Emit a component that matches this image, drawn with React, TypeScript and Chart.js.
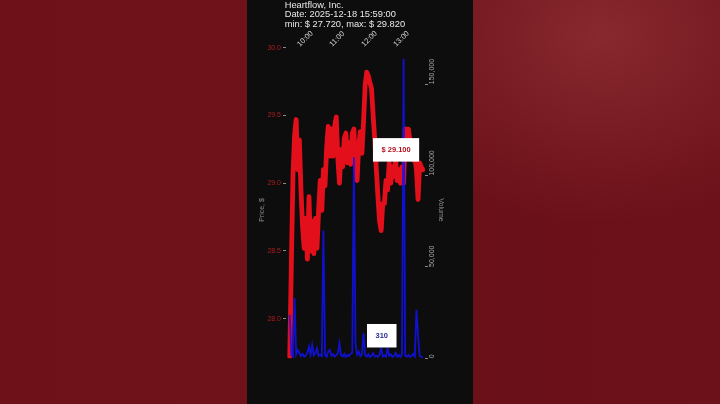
import { useEffect, useRef } from 'react';
import { Chart, registerables } from 'chart.js';

Chart.register(...registerables);

const FONT = '"Liberation Sans", Arial, Helvetica, sans-serif';
Chart.defaults.font.family = FONT;

// snapshot info
const companyName = 'Heartflow, Inc.';
const snapshotDate = '2025-12-18 15:59:00';

// one sample every 3 minutes, starting 09:39
const startTime = '09:39';
const stepMinutes = 3;

// tick labels
const hourLabels = ['10:00', '11:00', '12:00', '13:00'];
const priceTicks = [28.0, 28.5, 29.0, 29.5, 30.0];
const volumeTicks = [0, 50000, 100000, 150000];

// price, $
const prices = [
  27.72, 28.4, 29.05, 29.35, 29.47, 29.1, 29.32, 28.95, 28.68, 28.52,
  28.74, 28.44, 28.9, 28.5, 28.72, 28.48, 28.74, 28.52, 28.8, 29.02,
  28.8, 29.1, 28.98, 29.26, 29.42, 29.2, 29.4, 29.2, 29.42, 29.49,
  29.18, 29.0, 29.25, 29.12, 29.33, 29.37, 29.15, 29.3, 29.14, 29.37,
  29.4, 29.1, 29.02, 29.28, 29.38, 29.22, 29.45, 29.72, 29.82, 29.79,
  29.74, 29.7, 29.5, 29.32, 29.1, 28.9, 28.72, 28.65, 28.85, 28.85,
  29.02, 28.95, 29.15, 29.0, 29.12, 29.05, 29.18, 29.02, 29.1, 29.0,
  29.12, 29.0, 29.4, 29.3, 29.4, 29.3, 29.25, 29.17, 29.2, 29.1,
  28.88, 29.15, 29.12, 29.1,
];

// volume, shares
const volumes = [
  23800, 1800, 900, 33000, 2200, 4500, 2900, 1200, 2400, 900,
  1500, 3200, 6400, 2100, 7300, 1600, 2700, 5500, 1300, 2000,
  1100, 70000, 1900, 800, 3600, 4500, 1400, 2300, 900, 1700,
  2600, 8200, 1500, 1000, 2400, 700, 1800, 1200, 2500, 3100,
  110000, 8400, 2000, 3500, 1100, 2200, 13700, 1800, 900, 2300,
  600, 1500, 2800, 900, 1300, 700, 1900, 5600, 1000, 1600,
  800, 5600, 1400, 2100, 700, 1200, 3000, 900, 1800, 600,
  2500, 164000, 1400, 900, 2000, 700, 1300, 2400, 1000, 26600,
  12800, 1500, 800, 310,
];

const toMinutes = (t: string) => {
  const [h, m] = t.split(':').map(Number);
  return h * 60 + m;
};

const startMinute = toMinutes(startTime);
const times = prices.map((_, i) => startMinute + i * stepMinutes);
const hourValues = hourLabels.map(toMinutes);

function drawTag(ctx: CanvasRenderingContext2D, cx: number, cy: number, text: string, color: string) {
  ctx.save();
  ctx.font = `bold 7.5px ${FONT}`;
  const w = ctx.measureText(text).width + 17;
  const h = 23.5;
  ctx.fillStyle = '#ffffff';
  ctx.fillRect(cx - w / 2, cy - h / 2, w, h);
  ctx.fillStyle = color;
  ctx.textAlign = 'center';
  ctx.textBaseline = 'middle';
  ctx.fillText(text, cx, cy);
  ctx.restore();
}

const overlayPlugin = {
  id: 'overlay',
  afterDatasetsDraw(chart: any) {
    const { ctx, scales } = chart;
    const last = prices.length - 1;
    const px = scales.x.getPixelForValue(times[last]);
    const py = scales.y.getPixelForValue(prices[last]);
    const vy = scales.y1.getPixelForValue(volumes[last]);
    drawTag(ctx, px - 26.8, py - 19.8, `$ ${prices[last].toFixed(3)}`, '#b5121b');
    drawTag(ctx, px - 41.1, vy - 22, String(volumes[last]), '#2b2b9c');
  },
  afterDraw(chart: any) {
    const { ctx, chartArea } = chart;
    ctx.save();
    // header
    ctx.font = `9.3px ${FONT}`;
    ctx.fillStyle = '#e8e8e8';
    ctx.textAlign = 'left';
    ctx.textBaseline = 'alphabetic';
    const lo = Math.min(...prices).toFixed(3);
    const hi = Math.max(...prices).toFixed(3);
    const lines = [companyName, `Date: ${snapshotDate}`, `min: $ ${lo}, max: $ ${hi}`];
    lines.forEach((line, i) => ctx.fillText(line, chartArea.left - 1.3, 7.6 + i * 9.65));

    // axis titles
    const midY = 210;
    ctx.font = `7px ${FONT}`;
    ctx.fillStyle = '#8e8e8e';
    ctx.textAlign = 'center';
    ctx.textBaseline = 'middle';
    ctx.save();
    ctx.translate(14.7, midY);
    ctx.rotate(-Math.PI / 2);
    ctx.fillText('Price, $', 0, 0);
    ctx.restore();
    ctx.save();
    ctx.translate(193.8, midY);
    ctx.rotate(Math.PI / 2);
    ctx.fillText('Volume', 0, 0);
    ctx.restore();
    ctx.restore();
  },
};

export default function App() {
  const canvasRef = useRef<HTMLCanvasElement | null>(null);
  const chartRef = useRef<Chart | null>(null);

  useEffect(() => {
    if (!canvasRef.current) return;
    if (chartRef.current) chartRef.current.destroy();

    chartRef.current = new Chart(canvasRef.current, {
      type: 'line',
      data: {
        datasets: [
          {
            label: 'Volume',
            data: volumes.map((v, i) => ({ x: times[i], y: v })),
            yAxisID: 'y1',
            borderColor: 'rgba(18, 18, 245, 0.85)',
            borderWidth: 1.8,
            pointRadius: 0,
            tension: 0,
            order: 0,
          },
          {
            label: 'Price',
            data: prices.map((p, i) => ({ x: times[i], y: p })),
            yAxisID: 'y',
            borderColor: '#e3101b',
            borderWidth: 4.8,
            borderJoinStyle: 'round',
            borderCapStyle: 'round',
            pointRadius: 0,
            tension: 0,
            order: 1,
          },
        ],
      },
      options: {
        animation: false,
        responsive: true,
        maintainAspectRatio: false,
        layout: { padding: { left: 0, right: 0, top: 0, bottom: 45.7 } },
        plugins: {
          legend: { display: false },
          tooltip: { enabled: false },
          title: { display: false },
        },
        scales: {
          x: {
            type: 'linear',
            position: 'top',
            min: 572,
            max: 832,
            afterBuildTicks: (s: any) => {
              s.ticks = hourValues.map((value) => ({ value }));
            },
            afterFit: (s: any) => {
              s.height = 47.7;
            },
            ticks: {
              autoSkip: false,
              minRotation: 45,
              maxRotation: 45,
              padding: -1,
              labelOffset: 4,
              color: '#d4d4d4',
              font: { size: 7.5 },
              callback: (v: any) => hourLabels[hourValues.indexOf(Number(v))] ?? '',
            },
            grid: { display: false, drawTicks: false },
            border: { display: false },
          },
          y: {
            type: 'linear',
            position: 'left',
            min: 27.708,
            max: 30.0,
            afterBuildTicks: (s: any) => {
              s.ticks = priceTicks.map((value) => ({ value }));
            },
            afterFit: (s: any) => {
              s.width = 39;
            },
            ticks: {
              color: '#b01c22',
              padding: 2,
              font: { size: 7 },
              callback: (v: any) => Number(v).toFixed(1),
            },
            grid: { drawOnChartArea: false, tickLength: 3, color: '#8a8a8a' },
            border: { display: false },
          },
          y1: {
            type: 'linear',
            position: 'right',
            min: 0,
            max: 170000,
            afterBuildTicks: (s: any) => {
              s.ticks = volumeTicks.map((value) => ({ value }));
            },
            afterFit: (s: any) => {
              s.width = 48;
            },
            ticks: {
              color: '#a8a8a8',
              padding: 3.6,
              minRotation: 90,
              maxRotation: 90,
              font: { size: 7 },
              callback: (v: any) => Number(v).toLocaleString('en-US'),
            },
            grid: { drawOnChartArea: false, tickLength: 3, color: '#8a8a8a' },
            border: { display: false },
          },
        },
      },
      plugins: [overlayPlugin],
    } as any);

    return () => {
      if (chartRef.current) {
        chartRef.current.destroy();
        chartRef.current = null;
      }
    };
  }, []);

  return (
    <div
      style={{
        position: 'fixed',
        inset: 0,
        overflow: 'hidden',
        background:
          'radial-gradient(ellipse 240px 190px at 600px 35px, rgba(160, 60, 64, 0.55), rgba(160, 60, 64, 0) 100%), linear-gradient(90deg, #6e1119 0%, #71121a 40%, #6a1018 70%, #6c1119 100%)',
      }}
    >
      <div
        style={{
          position: 'absolute',
          left: 247,
          top: 0,
          width: 226,
          height: 404,
          background: '#0d0d0d',
        }}
      >
        <canvas ref={canvasRef} />
      </div>
    </div>
  );
}
